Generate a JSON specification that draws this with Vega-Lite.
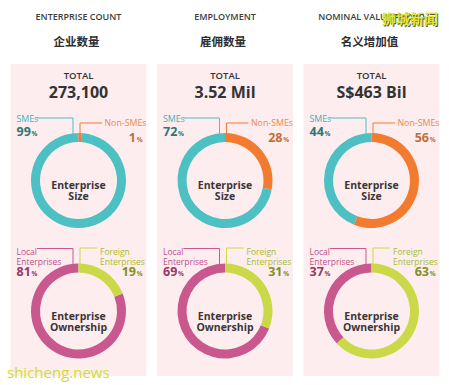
{
  "$schema": "https://vega.github.io/schema/vega-lite/v6.json",
  "width": 449,
  "height": 385,
  "autosize": {"type": "none"},
  "padding": 0,
  "background": "#ffffff",
  "config": {"view": {"stroke": null}, "axis": {"disable": true}, "font": "Open Sans"},
  "datasets": {
    "panels": [
      {"metric": "Enterprise Count", "en": "ENTERPRISE COUNT", "zh": "企业数量", "total": "273,100"},
      {"metric": "Employment", "en": "EMPLOYMENT", "zh": "雇佣数量", "total": "3.52 Mil"},
      {"metric": "Nominal Value Added", "en": "NOMINAL VALUE ADDED", "zh": "名义增加值", "total": "S$463 Bil"}
    ],
    "segments": [
      {"metric": "Enterprise Count", "chart": "Enterprise Size", "category": "SMEs", "value": 99},
      {"metric": "Enterprise Count", "chart": "Enterprise Size", "category": "Non-SMEs", "value": 1},
      {"metric": "Employment", "chart": "Enterprise Size", "category": "SMEs", "value": 72},
      {"metric": "Employment", "chart": "Enterprise Size", "category": "Non-SMEs", "value": 28},
      {"metric": "Nominal Value Added", "chart": "Enterprise Size", "category": "SMEs", "value": 44},
      {"metric": "Nominal Value Added", "chart": "Enterprise Size", "category": "Non-SMEs", "value": 56},
      {"metric": "Enterprise Count", "chart": "Enterprise Ownership", "category": "Local Enterprises", "value": 81},
      {"metric": "Enterprise Count", "chart": "Enterprise Ownership", "category": "Foreign Enterprises", "value": 19},
      {"metric": "Employment", "chart": "Enterprise Ownership", "category": "Local Enterprises", "value": 69},
      {"metric": "Employment", "chart": "Enterprise Ownership", "category": "Foreign Enterprises", "value": 31},
      {"metric": "Nominal Value Added", "chart": "Enterprise Ownership", "category": "Local Enterprises", "value": 37},
      {"metric": "Nominal Value Added", "chart": "Enterprise Ownership", "category": "Foreign Enterprises", "value": 63}
    ],
    "marks": [
      {"metric": "Nominal Value Added", "site": "狮城新闻"}
    ],
    "marks2": [
      {"metric": "Enterprise Count", "site": "shicheng.news"}
    ]
  },
  "encoding": {
    "x": {"field": "metric", "type": "nominal", "axis": null,
      "scale": {"type": "point", "domain": ["Enterprise Count", "Employment", "Nominal Value Added"], "range": [78.5, 371.5], "padding": 0}}
  },
  "layer": [
    {
      "data": {"name": "panels"},
      "mark": {"type": "tick", "orient": "vertical", "size": 312, "thickness": 136, "color": "#fdedef", "opacity": 1, "yOffset": 39.5},
      "encoding": {"y": {"datum": "Enterprise Size", "type": "nominal", "axis": null, "scale": {"type": "point", "domain": ["Enterprise Size", "Enterprise Ownership"], "range": [180.5, 311], "padding": 0}}}
    },
    {
      "data": {"name": "panels"},
      "mark": {"type": "text", "fontSize": 9, "fontWeight": 600, "color": "#3d3d3d", "yOffset": -163.5},
      "encoding": {"y": {"datum": "Enterprise Size", "type": "nominal", "axis": null, "scale": {"type": "point", "domain": ["Enterprise Size", "Enterprise Ownership"], "range": [180.5, 311], "padding": 0}}, "text": {"field": "en"}}
    },
    {
      "data": {"name": "panels"},
      "mark": {"type": "text", "font": "Noto Sans CJK SC", "fontSize": 11.5, "fontWeight": "bold", "color": "#2e2e2e", "yOffset": -137.5, "xOffset": -2},
      "encoding": {"y": {"datum": "Enterprise Size", "type": "nominal", "axis": null, "scale": {"type": "point", "domain": ["Enterprise Size", "Enterprise Ownership"], "range": [180.5, 311], "padding": 0}}, "text": {"field": "zh"}}
    },
    {
      "data": {"name": "panels"},
      "mark": {"type": "text", "fontSize": 9.5, "fontWeight": 600, "color": "#333333", "yOffset": -104.5},
      "encoding": {"y": {"datum": "Enterprise Size", "type": "nominal", "axis": null, "scale": {"type": "point", "domain": ["Enterprise Size", "Enterprise Ownership"], "range": [180.5, 311], "padding": 0}}, "text": {"value": "TOTAL"}}
    },
    {
      "data": {"name": "panels"},
      "mark": {"type": "text", "fontSize": 16, "fontWeight": "bold", "color": "#333333", "yOffset": -87.5},
      "encoding": {"y": {"datum": "Enterprise Size", "type": "nominal", "axis": null, "scale": {"type": "point", "domain": ["Enterprise Size", "Enterprise Ownership"], "range": [180.5, 311], "padding": 0}}, "text": {"field": "total"}}
    },
    {
      "data": {"name": "segments"},
      "transform": [{"filter": "datum.category === 'SMEs' || datum.category === 'Local Enterprises'"}],
      "mark": {"type": "tick", "orient": "horizontal", "size": 36, "thickness": 1, "opacity": 1, "xOffset": -23.5, "yOffset": -62.5},
      "encoding": {
        "y": {"field": "chart", "type": "nominal", "axis": null, "scale": {"type": "point", "domain": ["Enterprise Size", "Enterprise Ownership"], "range": [180.5, 311], "padding": 0}},
        "color": {"field": "category", "type": "nominal", "legend": null, "scale": {"domain": ["SMEs", "Non-SMEs", "Local Enterprises", "Foreign Enterprises"], "range": ["#4cc0c3", "#f27b2f", "#c8588e", "#cbd949"]}}
      }
    },
    {
      "data": {"name": "segments"},
      "transform": [{"filter": "datum.category === 'SMEs' || datum.category === 'Local Enterprises'"}],
      "mark": {"type": "tick", "orient": "vertical", "size": 18.5, "thickness": 1, "opacity": 1, "xOffset": -5.5, "yOffset": -53.25},
      "encoding": {
        "y": {"field": "chart", "type": "nominal", "axis": null, "scale": {"type": "point", "domain": ["Enterprise Size", "Enterprise Ownership"], "range": [180.5, 311], "padding": 0}},
        "color": {"field": "category", "type": "nominal", "legend": null, "scale": {"domain": ["SMEs", "Non-SMEs", "Local Enterprises", "Foreign Enterprises"], "range": ["#4cc0c3", "#f27b2f", "#c8588e", "#cbd949"]}}
      }
    },
    {
      "data": {"name": "segments"},
      "transform": [{"filter": "datum.category === 'Non-SMEs'"}],
      "mark": {"type": "tick", "orient": "horizontal", "size": 22, "thickness": 1, "opacity": 1, "xOffset": 12.5, "yOffset": -57.5, "color": "#f27b2f"},
      "encoding": {
        "y": {"field": "chart", "type": "nominal", "axis": null, "scale": {"type": "point", "domain": ["Enterprise Size", "Enterprise Ownership"], "range": [180.5, 311], "padding": 0}}
      }
    },
    {
      "data": {"name": "segments"},
      "transform": [{"filter": "datum.category === 'Non-SMEs'"}],
      "mark": {"type": "tick", "orient": "vertical", "size": 13.5, "thickness": 1, "opacity": 1, "xOffset": 1.5, "yOffset": -50.75, "color": "#f27b2f"},
      "encoding": {
        "y": {"field": "chart", "type": "nominal", "axis": null, "scale": {"type": "point", "domain": ["Enterprise Size", "Enterprise Ownership"], "range": [180.5, 311], "padding": 0}}
      }
    },
    {
      "data": {"name": "segments"},
      "transform": [{"filter": "datum.category === 'Foreign Enterprises'"}],
      "mark": {"type": "tick", "orient": "horizontal", "size": 17, "thickness": 1, "opacity": 1, "xOffset": 10, "yOffset": -63, "color": "#cbd949"},
      "encoding": {
        "y": {"field": "chart", "type": "nominal", "axis": null, "scale": {"type": "point", "domain": ["Enterprise Size", "Enterprise Ownership"], "range": [180.5, 311], "padding": 0}}
      }
    },
    {
      "data": {"name": "segments"},
      "transform": [{"filter": "datum.category === 'Foreign Enterprises'"}],
      "mark": {"type": "tick", "orient": "vertical", "size": 19, "thickness": 1, "opacity": 1, "xOffset": 1.5, "yOffset": -53.5, "color": "#cbd949"},
      "encoding": {
        "y": {"field": "chart", "type": "nominal", "axis": null, "scale": {"type": "point", "domain": ["Enterprise Size", "Enterprise Ownership"], "range": [180.5, 311], "padding": 0}}
      }
    },
    {
      "data": {"name": "segments"},
      "transform": [{"stack": "value", "groupby": ["metric", "chart"], "sort": [{"field": "category", "order": "ascending"}], "as": ["t0", "t1"]}],
      "mark": {"type": "arc", "outerRadius": 47.5, "innerRadius": 38.5},
      "encoding": {
        "y": {"field": "chart", "type": "nominal", "axis": null, "scale": {"type": "point", "domain": ["Enterprise Size", "Enterprise Ownership"], "range": [180.5, 311], "padding": 0}},
        "theta": {"field": "t0", "type": "quantitative", "stack": null, "scale": {"domain": [0, 100]}},
        "theta2": {"field": "t1"},
        "color": {"field": "category", "type": "nominal", "legend": null, "scale": {"domain": ["SMEs", "Non-SMEs", "Local Enterprises", "Foreign Enterprises"], "range": ["#4cc0c3", "#f27b2f", "#c8588e", "#cbd949"]}}
      }
    },
    {
      "data": {"name": "segments"},
      "transform": [{"filter": "datum.category === 'SMEs' || datum.category === 'Local Enterprises'"}],
      "mark": {"type": "text", "fontSize": 10.5, "fontWeight": "bold", "color": "#3a3536", "lineBreak": " ", "lineHeight": 11, "yOffset": 5.5},
      "encoding": {
        "y": {"field": "chart", "type": "nominal", "axis": null, "scale": {"type": "point", "domain": ["Enterprise Size", "Enterprise Ownership"], "range": [180.5, 311], "padding": 0}},
        "text": {"field": "chart"}
      }
    },
    {
      "data": {"name": "segments"},
      "transform": [{"filter": "datum.category === 'SMEs'"}],
      "mark": {"type": "text", "fontSize": 8.8, "align": "left", "color": "#3fb1b3", "xOffset": -62, "yOffset": -61.5},
      "encoding": {
        "y": {"field": "chart", "type": "nominal", "axis": null, "scale": {"type": "point", "domain": ["Enterprise Size", "Enterprise Ownership"], "range": [180.5, 311], "padding": 0}},
        "text": {"field": "category"}
      }
    },
    {
      "data": {"name": "segments"},
      "transform": [{"filter": "datum.category === 'Non-SMEs'"}],
      "mark": {"type": "text", "fontSize": 8.8, "align": "left", "color": "#e58a4f", "xOffset": 26, "yOffset": -57.5},
      "encoding": {
        "y": {"field": "chart", "type": "nominal", "axis": null, "scale": {"type": "point", "domain": ["Enterprise Size", "Enterprise Ownership"], "range": [180.5, 311], "padding": 0}},
        "text": {"field": "category"}
      }
    },
    {
      "data": {"name": "segments"},
      "transform": [{"filter": "datum.category === 'Local Enterprises'"}],
      "mark": {"type": "text", "fontSize": 8.5, "align": "left", "color": "#c0508a", "lineBreak": " ", "lineHeight": 9.5, "xOffset": -62, "yOffset": -59},
      "encoding": {
        "y": {"field": "chart", "type": "nominal", "axis": null, "scale": {"type": "point", "domain": ["Enterprise Size", "Enterprise Ownership"], "range": [180.5, 311], "padding": 0}},
        "text": {"field": "category"}
      }
    },
    {
      "data": {"name": "segments"},
      "transform": [{"filter": "datum.category === 'Foreign Enterprises'"}],
      "mark": {"type": "text", "fontSize": 8.5, "align": "left", "color": "#a9bb2f", "lineBreak": " ", "lineHeight": 9.5, "xOffset": 21.5, "yOffset": -59},
      "encoding": {
        "y": {"field": "chart", "type": "nominal", "axis": null, "scale": {"type": "point", "domain": ["Enterprise Size", "Enterprise Ownership"], "range": [180.5, 311], "padding": 0}},
        "text": {"field": "category"}
      }
    },
    {
      "data": {"name": "segments"},
      "transform": [{"filter": "datum.category === 'SMEs'"}],
      "mark": {"type": "text", "fontSize": 12.5, "fontWeight": "bold", "align": "left", "baseline": "alphabetic", "color": "#2c7674", "xOffset": -62, "yOffset": -45},
      "encoding": {
        "y": {"field": "chart", "type": "nominal", "axis": null, "scale": {"type": "point", "domain": ["Enterprise Size", "Enterprise Ownership"], "range": [180.5, 311], "padding": 0}},
        "text": {"field": "value", "type": "quantitative", "format": "d"}
      }
    },
    {
      "data": {"name": "segments"},
      "transform": [{"filter": "datum.category === 'SMEs'"}],
      "mark": {"type": "text", "fontSize": 6.5, "fontWeight": "bold", "align": "left", "baseline": "alphabetic", "color": "#2c7674", "xOffset": -47, "yOffset": -45},
      "encoding": {
        "y": {"field": "chart", "type": "nominal", "axis": null, "scale": {"type": "point", "domain": ["Enterprise Size", "Enterprise Ownership"], "range": [180.5, 311], "padding": 0}},
        "text": {"value": "%"}
      }
    },
    {
      "data": {"name": "segments"},
      "transform": [{"filter": "datum.category === 'Local Enterprises'"}],
      "mark": {"type": "text", "fontSize": 12.5, "fontWeight": "bold", "align": "left", "baseline": "alphabetic", "color": "#933a66", "xOffset": -62, "yOffset": -35.5},
      "encoding": {
        "y": {"field": "chart", "type": "nominal", "axis": null, "scale": {"type": "point", "domain": ["Enterprise Size", "Enterprise Ownership"], "range": [180.5, 311], "padding": 0}},
        "text": {"field": "value", "type": "quantitative", "format": "d"}
      }
    },
    {
      "data": {"name": "segments"},
      "transform": [{"filter": "datum.category === 'Local Enterprises'"}],
      "mark": {"type": "text", "fontSize": 6.5, "fontWeight": "bold", "align": "left", "baseline": "alphabetic", "color": "#933a66", "xOffset": -47, "yOffset": -35.5},
      "encoding": {
        "y": {"field": "chart", "type": "nominal", "axis": null, "scale": {"type": "point", "domain": ["Enterprise Size", "Enterprise Ownership"], "range": [180.5, 311], "padding": 0}},
        "text": {"value": "%"}
      }
    },
    {
      "data": {"name": "segments"},
      "transform": [{"filter": "datum.category === 'Non-SMEs'"}],
      "mark": {"type": "text", "fontSize": 12.5, "fontWeight": "bold", "align": "right", "baseline": "alphabetic", "color": "#bf6f3a", "xOffset": 57.5, "yOffset": -39},
      "encoding": {
        "y": {"field": "chart", "type": "nominal", "axis": null, "scale": {"type": "point", "domain": ["Enterprise Size", "Enterprise Ownership"], "range": [180.5, 311], "padding": 0}},
        "text": {"field": "value", "type": "quantitative", "format": "d"}
      }
    },
    {
      "data": {"name": "segments"},
      "transform": [{"filter": "datum.category === 'Non-SMEs'"}],
      "mark": {"type": "text", "fontSize": 6.5, "fontWeight": "bold", "align": "right", "baseline": "alphabetic", "color": "#bf6f3a", "xOffset": 64, "yOffset": -39},
      "encoding": {
        "y": {"field": "chart", "type": "nominal", "axis": null, "scale": {"type": "point", "domain": ["Enterprise Size", "Enterprise Ownership"], "range": [180.5, 311], "padding": 0}},
        "text": {"value": "%"}
      }
    },
    {
      "data": {"name": "segments"},
      "transform": [{"filter": "datum.category === 'Foreign Enterprises'"}],
      "mark": {"type": "text", "fontSize": 12.5, "fontWeight": "bold", "align": "right", "baseline": "alphabetic", "color": "#848f24", "xOffset": 57.5, "yOffset": -35.5},
      "encoding": {
        "y": {"field": "chart", "type": "nominal", "axis": null, "scale": {"type": "point", "domain": ["Enterprise Size", "Enterprise Ownership"], "range": [180.5, 311], "padding": 0}},
        "text": {"field": "value", "type": "quantitative", "format": "d"}
      }
    },
    {
      "data": {"name": "segments"},
      "transform": [{"filter": "datum.category === 'Foreign Enterprises'"}],
      "mark": {"type": "text", "fontSize": 6.5, "fontWeight": "bold", "align": "right", "baseline": "alphabetic", "color": "#848f24", "xOffset": 64, "yOffset": -35.5},
      "encoding": {
        "y": {"field": "chart", "type": "nominal", "axis": null, "scale": {"type": "point", "domain": ["Enterprise Size", "Enterprise Ownership"], "range": [180.5, 311], "padding": 0}},
        "text": {"value": "%"}
      }
    },
    {
      "data": {"name": "marks"},
      "mark": {"type": "text", "font": "Noto Sans CJK SC", "fontSize": 14, "fontWeight": "bold", "color": "#5a5a30", "xOffset": 39.5, "yOffset": -159.5},
      "encoding": {"y": {"datum": "Enterprise Size", "type": "nominal", "axis": null, "scale": {"type": "point", "domain": ["Enterprise Size", "Enterprise Ownership"], "range": [180.5, 311], "padding": 0}}, "text": {"field": "site"}}
    },
    {
      "data": {"name": "marks"},
      "mark": {"type": "text", "font": "Noto Sans CJK SC", "fontSize": 14, "fontWeight": "bold", "color": "#e4e63c", "xOffset": 38.5, "yOffset": -160.5},
      "encoding": {"y": {"datum": "Enterprise Size", "type": "nominal", "axis": null, "scale": {"type": "point", "domain": ["Enterprise Size", "Enterprise Ownership"], "range": [180.5, 311], "padding": 0}}, "text": {"field": "site"}}
    },
    {
      "data": {"name": "marks2"},
      "mark": {"type": "text", "fontSize": 15, "align": "left", "color": "#d3dc2c", "xOffset": -71.5, "yOffset": 192.5},
      "encoding": {"y": {"datum": "Enterprise Size", "type": "nominal", "axis": null, "scale": {"type": "point", "domain": ["Enterprise Size", "Enterprise Ownership"], "range": [180.5, 311], "padding": 0}}, "text": {"field": "site"}}
    }
  ]
}
